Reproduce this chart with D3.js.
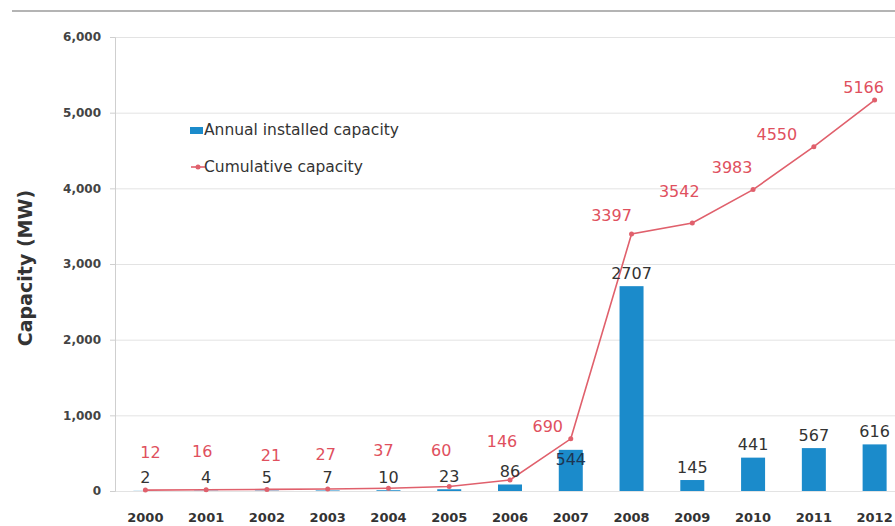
<!DOCTYPE html>
<html>
<head>
<meta charset="utf-8">
<script src="https://cdn.jsdelivr.net/npm/d3@7"></script>
<style>
  body { margin: 0; background: #fff; }
  svg { display: block; font-family: "DejaVu Sans", Verdana, sans-serif; }
</style>
</head>
<body>
<svg id="chart" width="895" height="526"></svg>
<script>
// data
const years = ['2000','2001','2002','2003','2004','2005','2006','2007','2008','2009','2010','2011','2012'];
const annual = [2, 4, 5, 7, 10, 23, 86, 544, 2707, 145, 441, 567, 616];
const cumulative = [12, 16, 21, 27, 37, 60, 146, 690, 3397, 3542, 3983, 4550, 5166];
const yTicks = [0, 1000, 2000, 3000, 4000, 5000, 6000];

// label nudges (px) for the cumulative values, relative to each point
const cumNudge = [[5,-38],[-4,-38],[4,-34],[-2,-34],[-5,-38],[-8,-36],[-8,-38],
                  [-23,-12],[-20,-18],[-13,-31],[-21,-22],[-37,-12],[-11,-13]];

const svg = d3.select('#chart');
const width = +svg.attr('width');

const barColor = '#1b8bcb';
const lineColor = '#e0606c';
const cumText = '#e0505e';

const x = d3.scalePoint().domain(years).range([115, 905]).padding(0.5);
const y = d3.scaleLinear().domain([0, 6000]).range([491, 37]);
const barW = 24;

// top rule
svg.append('line')
  .attr('x1', 12).attr('x2', width)
  .attr('y1', 11).attr('y2', 11)
  .attr('stroke', '#b4b4b4').attr('stroke-width', 2);

// grid
const grid = svg.append('g')
  .attr('transform', 'translate(115,0)')
  .call(d3.axisLeft(y).tickValues(yTicks).tickSize(-(width - 115)).tickFormat(''));
grid.select('.domain').remove();
grid.selectAll('line').attr('stroke', '#e3e3e3');

// y axis
const yAxisG = svg.append('g')
  .attr('transform', 'translate(115,0)')
  .call(d3.axisLeft(y).tickValues(yTicks).tickSize(5).tickPadding(9).tickFormat(d3.format(',')));
yAxisG.select('.domain').attr('stroke', '#cfcfcf');
yAxisG.selectAll('.tick line').attr('stroke', '#cfcfcf');
yAxisG.selectAll('text')
  .attr('font-family', '"DejaVu Sans", Verdana, sans-serif')
  .attr('font-size', 12).attr('font-weight', 'bold').attr('fill', '#444');

svg.append('text')
  .attr('transform', 'translate(25,268) rotate(-90)')
  .attr('text-anchor', 'middle').attr('dominant-baseline', 'central')
  .attr('font-size', 19).attr('font-weight', 'bold').attr('fill', '#333')
  .text('Capacity (MW)');

// x labels
svg.append('g').selectAll('text').data(years).join('text')
  .attr('x', d => x(d)).attr('y', 517)
  .attr('text-anchor', 'middle').attr('dominant-baseline', 'central')
  .attr('font-size', 13).attr('font-weight', 'bold').attr('fill', '#333')
  .text(d => d);

// bars
svg.append('g').selectAll('rect').data(annual).join('rect')
  .attr('x', (d, i) => x(years[i]) - barW / 2)
  .attr('y', d => y(d))
  .attr('width', barW)
  .attr('height', d => y(0) - y(d))
  .attr('fill', barColor);

// cumulative line
const line = d3.line()
  .x((d, i) => x(years[i]))
  .y(d => y(d));
svg.append('path')
  .datum(cumulative)
  .attr('d', line)
  .attr('fill', 'none')
  .attr('stroke', lineColor)
  .attr('stroke-width', 1.6);
svg.append('g').selectAll('circle').data(cumulative).join('circle')
  .attr('cx', (d, i) => x(years[i]))
  .attr('cy', d => y(d))
  .attr('r', 2.5)
  .attr('fill', lineColor);

// annual labels
svg.append('g').selectAll('text').data(annual).join('text')
  .attr('x', (d, i) => x(years[i]))
  .attr('y', (d, i) => y(d) + (years[i] === '2007' ? 10 : -13))
  .attr('text-anchor', 'middle').attr('dominant-baseline', 'central')
  .attr('font-size', 16)
  .attr('fill', (d, i) => years[i] === '2007' ? '#1d3553' : '#333')
  .text(d => d);

// cumulative labels
svg.append('g').selectAll('text').data(cumulative).join('text')
  .attr('x', (d, i) => x(years[i]) + cumNudge[i][0])
  .attr('y', (d, i) => y(d) + cumNudge[i][1])
  .attr('text-anchor', 'middle').attr('dominant-baseline', 'central')
  .attr('font-size', 16)
  .attr('fill', cumText)
  .text(d => d);

// legend
const legend = svg.append('g');
legend.append('rect')
  .attr('x', 190).attr('y', 127).attr('width', 13).attr('height', 7)
  .attr('fill', barColor);
legend.append('text')
  .attr('x', 204).attr('y', 130).attr('dominant-baseline', 'central')
  .attr('font-size', 15.5).attr('fill', '#333')
  .text('Annual installed capacity');
legend.append('line')
  .attr('x1', 191).attr('x2', 205).attr('y1', 167).attr('y2', 167)
  .attr('stroke', lineColor).attr('stroke-width', 1.6);
legend.append('circle')
  .attr('cx', 198).attr('cy', 167).attr('r', 2.5).attr('fill', lineColor);
legend.append('text')
  .attr('x', 204).attr('y', 167).attr('dominant-baseline', 'central')
  .attr('font-size', 15.5).attr('fill', '#333')
  .text('Cumulative capacity');
</script>
</body>
</html>
